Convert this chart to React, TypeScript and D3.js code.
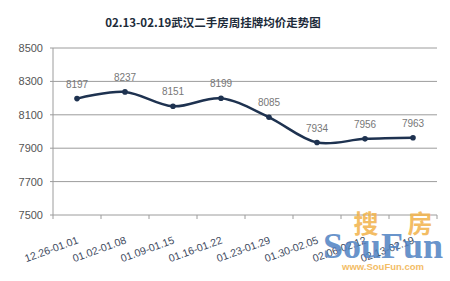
import React from "react";
import * as d3 from "d3";

const categories = ["12.26-01.01", "01.02-01.08", "01.09-01.15", "01.16-01.22", "01.23-01.29", "01.30-02.05", "02.06-02.12", "02.13-02.19"];
const prices = [8197, 8237, 8151, 8199, 8085, 7934, 7956, 7963];
const yTicks = [7500, 7700, 7900, 8100, 8300, 8500];
const title = "02.13-02.19武汉二手房周挂牌均价走势图";

const W = 450, H = 281;
const m = { left: 53, right: 437, top: 48, bottom: 215 };

export default function App() {
  const x = d3.scaleBand<string>().domain(categories).range([m.left, m.right]);
  const y = d3.scaleLinear().domain([7500, 8500]).range([m.bottom, m.top]);
  const pts: [number, number][] = prices.map((v, i) => [x(categories[i])! + x.bandwidth() / 2, y(v)]);
  const line = d3.line().curve(d3.curveCatmullRom.alpha(0.5))(pts) || "";
  const font = "'Liberation Sans', Arial, sans-serif";
  const boundaries = [...categories.map((c) => x(c)!), m.right];
  return (
    <svg width={W} height={H} style={{ position: "absolute", left: 0, top: 0, background: "#fff" }}>
      <rect width={W} height={H} fill="#fff" />
      <text x={213} y={27} textAnchor="middle" fontFamily="'Noto Sans CJK SC', sans-serif" fontWeight="bold" fontSize={11.5} fill="#1d2b3a">{title}</text>
      {yTicks.map((t) => (
        <g key={t}>
          <line x1={m.left - 3} x2={m.right} y1={y(t)} y2={y(t)} stroke="#9c9c9c" strokeWidth={1} />
          <text x={43} y={y(t) + 4} textAnchor="end" fontFamily={font} fontSize={11} fill="#555">{t}</text>
        </g>
      ))}
      <line x1={m.left} x2={m.left} y1={m.top} y2={m.bottom} stroke="#9c9c9c" />
      {boundaries.map((b, i) => (
        <line key={i} x1={b} x2={b} y1={m.bottom} y2={m.bottom + 4} stroke="#9c9c9c" />
      ))}
      {categories.map((c) => {
        const cx = x(c)! + x.bandwidth() / 2 + 2;
        return (
          <text key={c} transform={`translate(${cx},${m.bottom + 28}) rotate(-20)`} textAnchor="end" fontFamily={font} fontSize={10.5} fill="#3e4a5e">{c}</text>
        );
      })}
      <path d={line} fill="none" stroke="#1e3250" strokeWidth={2.5} />
      {pts.map((p, i) => (
        <g key={i}>
          <circle cx={p[0]} cy={p[1]} r={2.8} fill="#1e3250" />
          <text x={p[0]} y={p[1] - 11} textAnchor="middle" fontFamily={font} fontSize={10} fill="#777">{prices[i]}</text>
        </g>
      ))}
      <g opacity={0.85}>
        <text x={366} y={233} textAnchor="middle" fontFamily="'Noto Sans CJK SC', sans-serif" fontWeight="bold" fontSize={25} fill="#f2b24a">搜</text>
        <text x={420} y={233} textAnchor="middle" fontFamily="'Noto Sans CJK SC', sans-serif" fontWeight="bold" fontSize={25} fill="#f2b24a">房</text>
        <text x={383} y={258} textAnchor="middle" fontFamily="'Liberation Serif', serif" fontWeight="bold" fontSize={36} fill="#4f82c2">SouFun</text>
        <text x={383} y={270} textAnchor="middle" fontFamily={font} fontWeight="bold" fontSize={9.5} fill="#f2b24a">www.SouFun.com</text>
      </g>
    </svg>
  );
}
